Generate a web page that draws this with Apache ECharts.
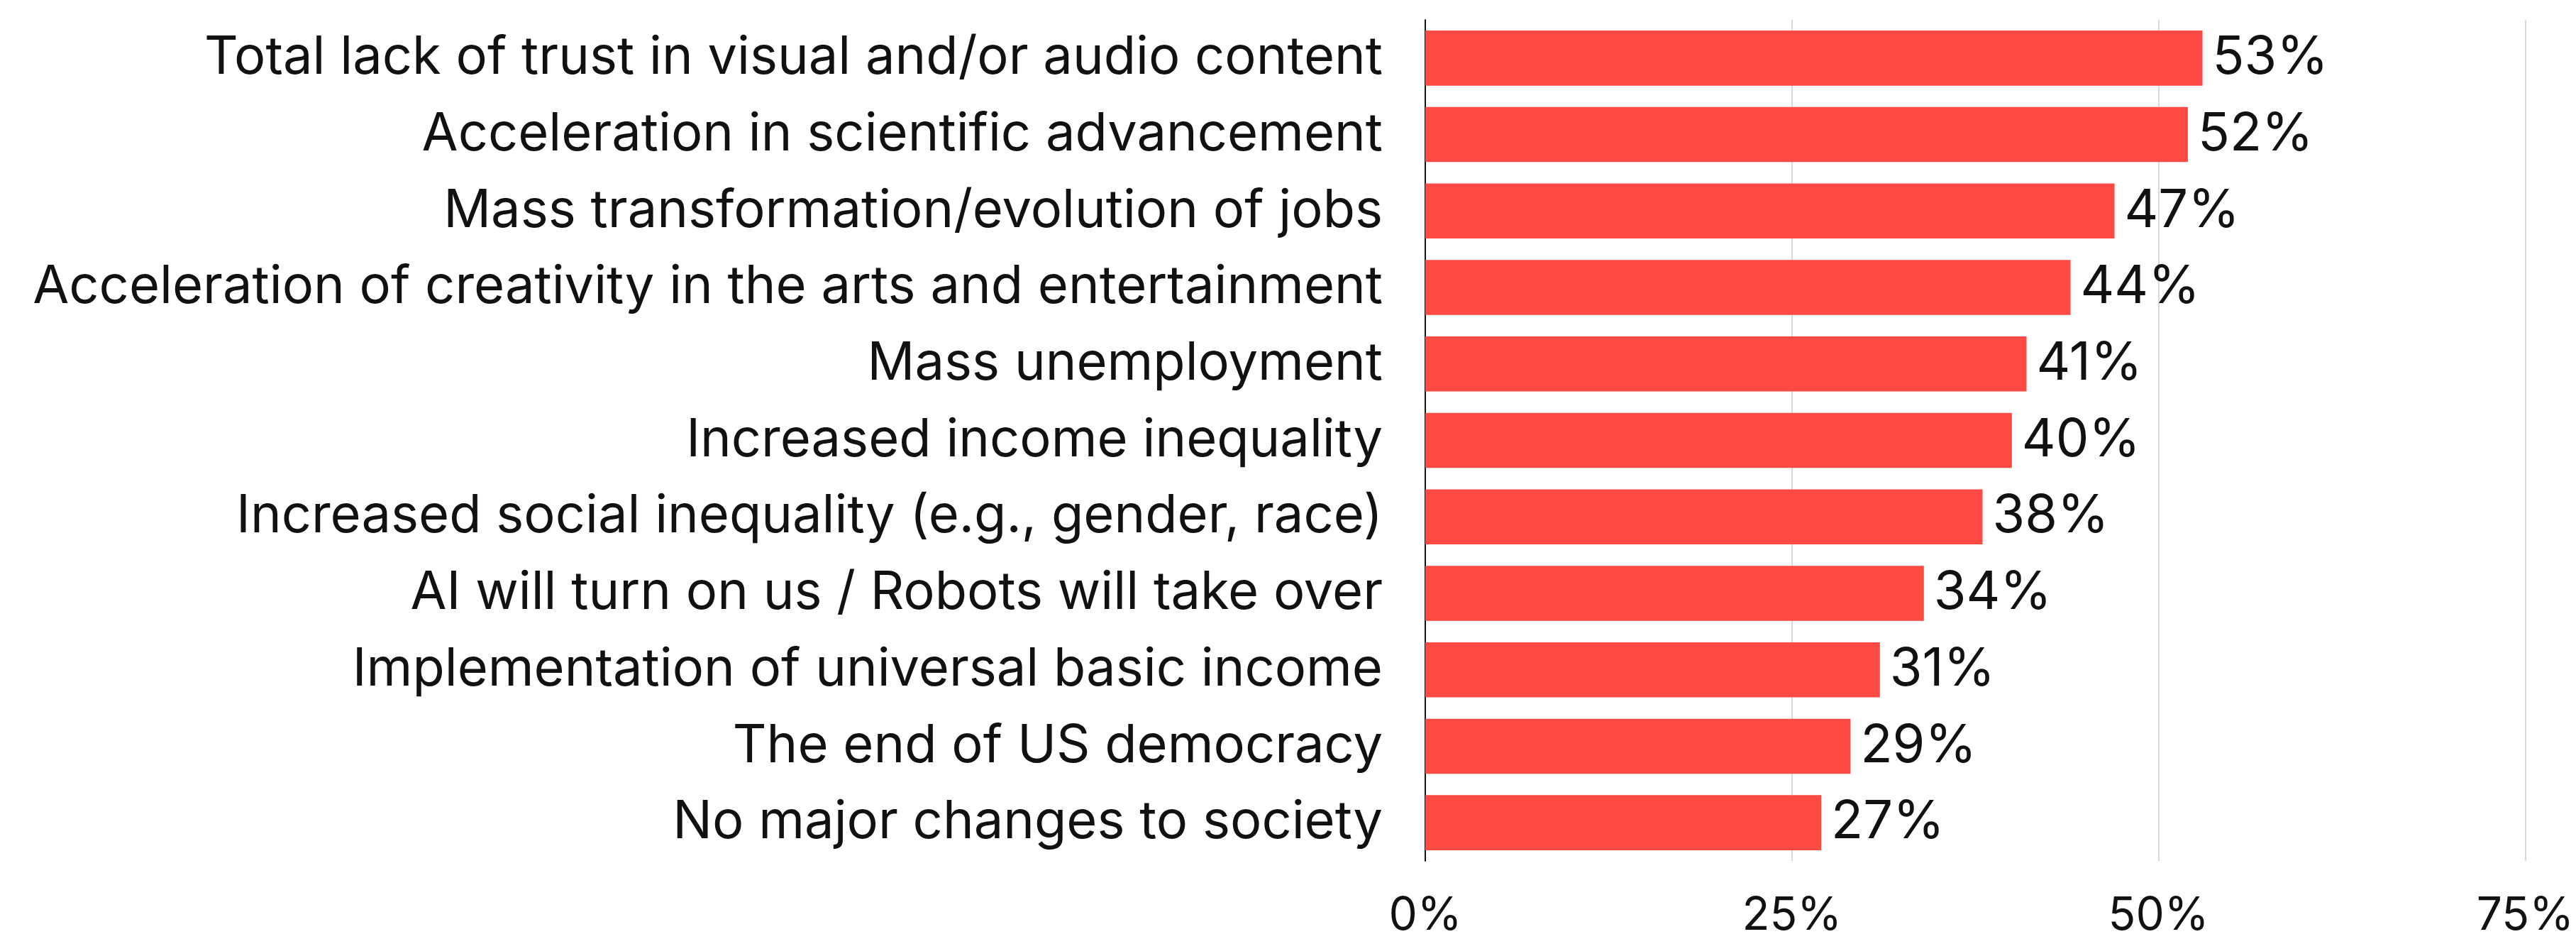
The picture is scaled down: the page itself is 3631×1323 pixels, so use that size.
<!DOCTYPE html>
<html>
<head>
<meta charset="utf-8">
<style>
  html, body { margin: 0; padding: 0; background: #ffffff; }
  #chart { width: 3631px; height: 1323px; }
</style>
<script src="https://cdn.jsdelivr.net/npm/echarts@6/dist/echarts.min.js"></script>
</head>
<body>
<div id="chart"></div>
<script>
// Expected societal outcomes, share of respondents (%)
const categories = [
  'Total lack of trust in visual and/or audio content',
  'Acceleration in scientific advancement',
  'Mass transformation/evolution of jobs',
  'Acceleration of creativity in the arts and entertainment',
  'Mass unemployment',
  'Increased income inequality',
  'Increased social inequality (e.g., gender, race)',
  'AI will turn on us / Robots will take over',
  'Implementation of universal basic income',
  'The end of US democracy',
  'No major changes to society'
];
const shares = [53, 52, 47, 44, 41, 40, 38, 34, 31, 29, 27];
const axisTicks = [0, 25, 50, 75];

const FONT = 'Inter';
const chart = echarts.init(document.getElementById('chart'), null, { renderer: 'canvas' });

chart.setOption({
  animation: false,
  backgroundColor: '#ffffff',
  grid: { left: 2009, right: 71, top: 28, bottom: 107, containLabel: false },
  xAxis: {
    type: 'value',
    min: axisTicks[0],
    max: axisTicks[axisTicks.length - 1],
    interval: axisTicks[1] - axisTicks[0],
    axisLine: { show: false },
    axisTick: { show: false },
    splitLine: { show: true, lineStyle: { color: '#d9d9d9', width: 2 } },
    axisLabel: {
      formatter: '{value}%',
      color: '#111111',
      fontFamily: FONT,
      fontSize: 64,
      margin: 46
    }
  },
  yAxis: {
    type: 'category',
    data: categories,
    inverse: true,
    axisLine: { show: true, lineStyle: { color: '#111111', width: 2 } },
    axisTick: { show: false },
    axisLabel: {
      color: '#111111',
      fontFamily: FONT,
      fontSize: 74,
      margin: 60
    }
  },
  series: [{
    type: 'bar',
    data: shares,
    barCategoryGap: '28%',
    itemStyle: { color: '#ff4a43' },
    label: {
      show: true,
      position: 'right',
      distance: 14,
      formatter: '{c}%',
      color: '#111111',
      fontFamily: FONT,
      fontSize: 74
    }
  }]
});
</script>
</body>
</html>
